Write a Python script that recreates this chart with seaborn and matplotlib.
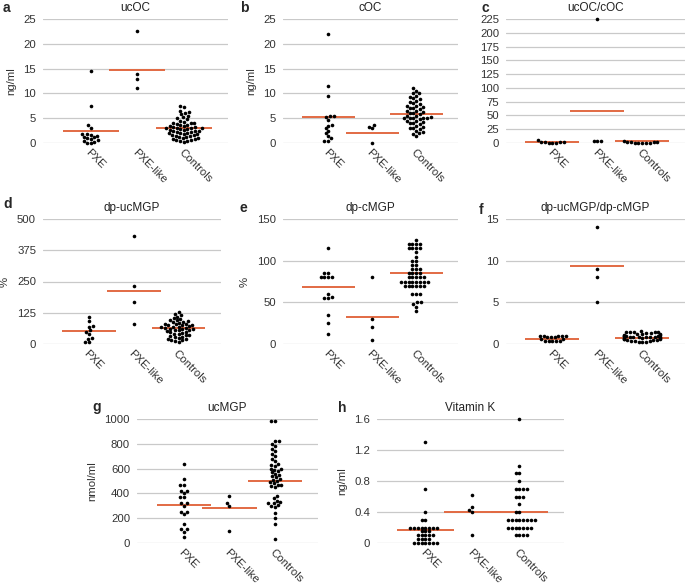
import numpy as np
import pandas as pd
import matplotlib
matplotlib.use("Agg")
import matplotlib.pyplot as plt
import seaborn as sns

groups = ["PXE", "PXE-like", "Controls"]

# a - ucOC (ng/ml)
ucoc_pxe = [14.5, 7.5, 3.6, 3.1, 1.9, 1.8, 1.7, 1.5, 1.3, 1.2, 1.0, 0.8, 0.6, 0.5, 0.3, 0.1, 0.0]
ucoc_like = [22.5, 14.0, 13.0, 11.0]
ucoc_ctrl = [7.5, 7.2, 6.5, 6.2, 6.0, 5.8, 5.5, 5.2, 5.0, 4.8, 4.5, 4.3, 4.1, 4.0, 4.0,
             3.8, 3.7, 3.6, 3.5, 3.4, 3.3, 3.2, 3.1, 3.0, 3.0, 3.0, 2.9, 2.8, 2.7, 2.6,
             2.5, 2.5, 2.4, 2.3, 2.2, 2.1, 2.0, 2.0, 1.9, 1.8, 1.7, 1.6, 1.5, 1.4, 1.3,
             1.2, 1.1, 1.0, 0.9, 0.8, 0.7, 0.6, 0.5, 0.4, 0.3]
ucoc_lines = [2.5, 14.8, 3.0]

# b - cOC (ng/ml)
coc_pxe = [22.0, 11.5, 9.5, 5.5, 5.5, 5.3, 4.7, 3.6, 3.5, 3.0, 2.5, 2.0, 1.5, 1.0, 0.5, 0.5]
coc_like = [3.6, 3.3, 3.0, 0.1]
coc_ctrl = [11.0, 10.5, 10.0, 10.0, 9.5, 9.2, 9.0, 8.8, 8.5, 8.2, 8.0, 7.8, 7.5, 7.5,
            7.2, 7.0, 7.0, 6.8, 6.5, 6.5, 6.2, 6.0, 6.0, 5.8, 5.5, 5.5, 5.2, 5.0, 5.0,
            5.0, 5.0, 5.0, 4.8, 4.5, 4.5, 4.2, 4.0, 4.0, 3.8, 3.5, 3.2, 3.0, 3.0, 2.8,
            2.5, 2.2, 2.0, 1.8, 1.5]
coc_lines = [5.3, 2.1, 5.9]

# c - ucOC/cOC
ratio_oc_pxe = [5.0, 2.0, 1.5, 1.0, 1.0, 0.5, 0.5, 0.3]
ratio_oc_like = [225.0, 4.0, 4.0, 4.0]
ratio_oc_ctrl = [4.0, 2.0, 1.5, 1.0, 1.0, 0.8, 0.6, 0.5, 0.3, 0.2]
ratio_oc_lines = [1.0, 58.0, 3.5]

# d - dp-ucMGP (%)
ucmgp_pct_pxe = [110, 93, 72, 70, 56, 50, 40, 25, 22, 10, 8]
ucmgp_pct_like = [430, 232, 170, 80]
ucmgp_pct_ctrl = [130, 120, 115, 110, 105, 100, 98, 95, 92, 90, 88, 85, 82, 80, 80, 78,
                  75, 75, 72, 70, 70, 68, 65, 65, 62, 60, 60, 58, 55, 55, 52, 50, 48, 45,
                  42, 40, 38, 35, 32, 30, 28, 25, 22, 20, 18, 15, 12, 10]
ucmgp_pct_lines = [52, 214, 66]

# e - dp-cMGP (%)
cmgp_pxe = [115, 85, 85, 80, 80, 80, 80, 60, 57, 55, 55, 35, 25, 12]
cmgp_like = [80, 30, 20, 5]
cmgp_ctrl = [125, 120, 120, 120, 120, 115, 115, 115, 115, 110, 105, 100, 100, 95, 95,
             90, 90, 90, 85, 85, 85, 85, 80, 80, 80, 80, 80, 75, 75, 75, 75, 75, 75, 75,
             75, 70, 70, 70, 70, 70, 70, 60, 60, 60, 50, 50, 48, 45, 40]
cmgp_lines = [68.5, 33, 85]

# f - dp-ucMGP/dp-cMGP
ratio_mgp_pxe = [1.0, 1.0, 1.0, 1.0, 1.0, 0.8, 0.8, 0.8, 0.6, 0.6, 0.4, 0.4, 0.4, 0.4, 0.4]
ratio_mgp_like = [14.0, 9.0, 8.0, 5.0]
ratio_mgp_ctrl = [1.6, 1.5, 1.5, 1.4, 1.4, 1.4, 1.3, 1.3, 1.2, 1.2, 1.2, 1.1, 1.1, 1.0,
                  1.0, 1.0, 1.0, 0.9, 0.9, 0.9, 0.8, 0.8, 0.8, 0.8, 0.7, 0.7, 0.7, 0.6,
                  0.6, 0.6, 0.5, 0.5, 0.5, 0.4, 0.4, 0.4, 0.3, 0.3, 0.2]
ratio_mgp_lines = [0.65, 9.35, 0.77]

# g - ucMGP (nmol/ml)
ucmgp_pxe = [640, 520, 470, 470, 420, 420, 400, 370, 370, 320, 320, 300, 250, 250, 230,
             150, 110, 110, 90, 50]
ucmgp_like = [380, 320, 300, 100]
ucmgp_ctrl = [980, 980, 820, 820, 800, 780, 760, 740, 720, 700, 680, 660, 640, 630, 620,
              600, 600, 590, 580, 570, 560, 550, 540, 530, 520, 510, 500, 490, 480, 470,
              470, 460, 450, 380, 360, 340, 330, 320, 320, 310, 300, 290, 240, 200, 150, 30]
ucmgp_lines = [309, 280, 504]

# h - Vitamin K (ng/ml)
vitk_pxe = [1.3, 0.7, 0.4, 0.3, 0.3] + [0.2] * 8 + [0.15] * 3 + [0.1] * 5 + [0.05] * 4 + [0.0] * 7
vitk_like = [0.62, 0.46, 0.43, 0.40, 0.10]
vitk_ctrl = [1.6, 1.0, 0.9, 0.9, 0.8] + [0.7] * 4 + [0.6] * 3 + [0.5] + [0.4] * 2 + [0.3] * 8 + [0.2] * 7 + [0.1] * 4
vitk_lines = [0.17, 0.40, 0.40]

W, H = 685, 586
ORANGE = "#e26a43"


def rect(left, right, top, bottom):
    return [left / W, 1 - bottom / H, (right - left) / W, (bottom - top) / H]


def draw_panel(ax, pxe, like, ctrl, lines, title, ylabel, ticks, ticklabels):
    df = pd.DataFrame({
        "group": ["PXE"] * len(pxe) + ["PXE-like"] * len(like) + ["Controls"] * len(ctrl),
        "value": list(pxe) + list(like) + list(ctrl),
    })
    pos = np.arange(len(groups))
    ax.hlines(lines, pos - 0.6, pos + 0.6, color=ORANGE, lw=1.4, zorder=2)
    sns.swarmplot(data=df, x="group", y="value", order=groups, color="black",
                  size=2.6, linewidth=0, ax=ax, zorder=3)
    for coll in ax.collections:
        coll.set_clip_on(False)
    ax.set_xlim(-1.03, 2.95)
    ax.set_ylim(ticks[0], ticks[-1])
    ax.set_yticks(ticks)
    ax.set_yticklabels(ticklabels)
    ax.set_xticks(pos)
    ax.set_xticklabels(groups, rotation=-45, ha="left", va="top",
                       rotation_mode="anchor", fontsize=8, color="#222222")
    ax.yaxis.grid(True, color="#c9c9c9", lw=0.9)
    ax.set_axisbelow(True)
    for s in ax.spines.values():
        s.set_visible(False)
    ax.tick_params(length=0, labelsize=8.2, colors="#333333")
    ax.tick_params(axis="x", pad=3)
    ax.tick_params(axis="y", pad=5)
    ax.set_xlabel("")
    ax.set_ylabel(ylabel, fontsize=8.2, color="#333333", labelpad=5)
    ax.set_title(title, fontsize=8.5, pad=6, color="#222222")


sns.set_style("white")
plt.rcParams["font.family"] = ["Liberation Sans", "DejaVu Sans"]

fig = plt.figure(figsize=(6.85, 5.86), dpi=100)

# letter positions are the top-left corner of each panel letter, in pixels
panels = [
    ("a", (3, 1), rect(43, 228, 19, 143), ucoc_pxe, ucoc_like, ucoc_ctrl, ucoc_lines,
     "ucOC", "ng/ml", [0, 5, 10, 15, 20, 25], ["0", "5", "10", "15", "20", "25"]),
    ("b", (240, 1), rect(283, 458, 19, 143), coc_pxe, coc_like, coc_ctrl, coc_lines,
     "cOC", "ng/ml", [0, 5, 10, 15, 20, 25], ["0", "5", "10", "15", "20", "25"]),
    ("c", (481, 1), rect(506, 685, 19, 143), ratio_oc_pxe, ratio_oc_like, ratio_oc_ctrl,
     ratio_oc_lines, "ucOC/cOC", "", list(range(0, 226, 25)),
     [str(v) for v in range(0, 226, 25)]),
    ("d", (3, 197), rect(43, 221, 219, 344), ucmgp_pct_pxe, ucmgp_pct_like, ucmgp_pct_ctrl,
     ucmgp_pct_lines, "dp-ucMGP", "%", [0, 125, 250, 375, 500],
     ["0", "125", "250", "375", "500"]),
    ("e", (240, 201), rect(283, 458, 219, 344), cmgp_pxe, cmgp_like, cmgp_ctrl, cmgp_lines,
     "dp-cMGP", "%", [0, 50, 100, 150], ["0", "50", "100", "150"]),
    ("f", (479, 203), rect(506, 685, 219, 344), ratio_mgp_pxe, ratio_mgp_like,
     ratio_mgp_ctrl, ratio_mgp_lines, "dp-ucMGP/dp-cMGP", "", [0, 5, 10, 15],
     ["0", "5", "10", "15"]),
    ("g", (92, 400), rect(137, 318, 419, 543), ucmgp_pxe, ucmgp_like, ucmgp_ctrl,
     ucmgp_lines, "ucMGP", "nmol/ml", [0, 200, 400, 600, 800, 1000],
     ["0", "200", "400", "600", "800", "1000"]),
    ("h", (338, 401), rect(377, 564, 419, 543), vitk_pxe, vitk_like, vitk_ctrl, vitk_lines,
     "Vitamin K", "ng/ml", [0, 0.4, 0.8, 1.2, 1.6], ["0", "0.4", "0.8", "1.2", "1.6"]),
]

for letter, (lx, ly), r, pxe, like, ctrl, lines, title, ylab, ticks, tlabels in panels:
    ax = fig.add_axes(r)
    draw_panel(ax, pxe, like, ctrl, lines, title, ylab, ticks, tlabels)
    fig.text(lx / W, 1 - ly / H, letter, fontsize=10, fontweight="bold",
             ha="left", va="top")

fig.savefig("out.png", dpi=100)
